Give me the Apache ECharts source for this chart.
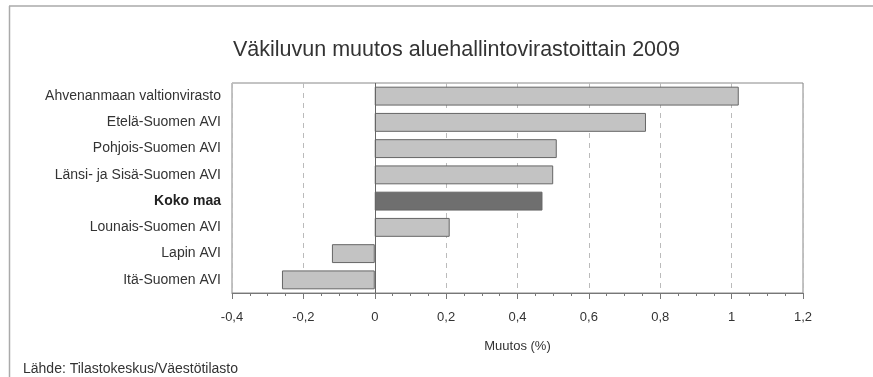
<!DOCTYPE html>
<html>
<head>
<meta charset="utf-8">
<script src="https://cdn.jsdelivr.net/npm/echarts@6/dist/echarts.min.js"></script>
<style>html,body{margin:0;padding:0;background:#fff}#c{width:873px;height:377px}</style>
</head>
<body>
<div id="c"></div>
<script>
var categories = ["Ahvenanmaan valtionvirasto","Etelä-Suomen AVI","Pohjois-Suomen AVI","Länsi- ja Sisä-Suomen AVI","Koko maa","Lounais-Suomen AVI","Lapin AVI","Itä-Suomen AVI"];
var values = [1.02, 0.76, 0.51, 0.50, 0.47, 0.21, -0.12, -0.26];
var highlight = "Koko maa";
var titleText = "Väkiluvun muutos aluehallintovirastoittain 2009";
var axisName = "Muutos (%)";
var sourceText = "Lähde: Tilastokeskus/Väestötilasto";

var font = "'Liberation Sans', Arial, sans-serif";
var chart = echarts.init(document.getElementById('c'), null, {renderer:'canvas'});
chart.setOption({
  animation:false,
  textStyle:{fontFamily:font},
  title:[{text:titleText,left:228,top:34,textStyle:{fontFamily:font,fontSize:21.5,fontWeight:'normal',color:'#333'}}],
  graphic:[
    {type:'line',shape:{x1:9,y1:6,x2:873,y2:6},style:{stroke:'#aaa',lineWidth:1.5}},
    {type:'line',shape:{x1:9.5,y1:6,x2:9.5,y2:377},style:{stroke:'#aaa',lineWidth:1.5}},
    {type:'text',left:23,top:362,style:{text:sourceText,font:'14px '+font,fill:'#333'}}
  ],
  grid:{left:232,right:70,top:83,bottom:84,show:true,borderColor:'#888',borderWidth:1},
  xAxis:{type:'value',min:-0.4,max:1.2,interval:0.2,
    name:axisName,nameLocation:'middle',nameGap:47,
    nameTextStyle:{fontSize:13,color:'#333',fontFamily:font},
    axisLine:{show:true,onZero:false,lineStyle:{color:'#777'}},
    axisTick:{show:true,length:6,lineStyle:{color:'#777'}},
    minorTick:{show:true,splitNumber:4,length:3,lineStyle:{color:'#777'}},
    splitLine:{show:true,lineStyle:{color:'#bbb',type:[5,5]}},
    axisLabel:{color:'#333',fontSize:13,margin:18,fontFamily:font,formatter:function(v){return String(Math.round(v*10)/10).replace('.',',');}}
  },
  yAxis:{type:'category',data:categories,inverse:true,
    axisLine:{show:false},axisTick:{show:false},
    axisLabel:{margin:11,fontSize:14,color:'#333',fontFamily:font,
      formatter:function(v){return v===highlight?'{b|'+v+'}':v;},
      rich:{b:{fontWeight:'bold',fontSize:14,fontFamily:font,color:'#222'}}}
  },
  series:[{type:'bar',barCategoryGap:'28%',
    data:values.map(function(v,i){return {value:v,itemStyle:{color:categories[i]===highlight?'#6f6f6f':'#c3c3c3',borderColor:'#666',borderWidth:1}};}),
    markLine:{silent:true,symbol:'none',label:{show:false},lineStyle:{color:'#666',type:'solid',width:1},data:[{xAxis:0}]}
  }]
});
</script>
</body>
</html>
